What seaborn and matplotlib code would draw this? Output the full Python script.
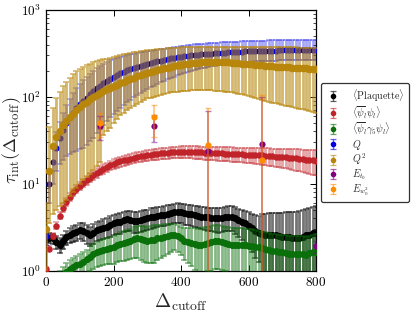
import numpy as np
import matplotlib
matplotlib.use("Agg")
import matplotlib.pyplot as plt
import matplotlib.colors as mcolors
from matplotlib.ticker import FixedLocator, FuncFormatter, LogLocator, NullFormatter, NullLocator
import seaborn as sns

# ---------------- data ----------------
cutoff = np.arange(0, 810, 10)

plaq = [2.45, 2.4, 2.35, 2.15, 1.98, 2.2, 2.45, 2.6, 2.7, 2.8,
        2.92, 2.85, 2.7, 2.57, 2.75, 2.92, 3.0, 3.1, 3.2, 3.35,
        3.5, 3.6, 3.67, 3.8, 3.9, 3.85, 3.75, 3.7, 3.85, 3.95,
        4.0, 4.1, 4.2, 4.3, 4.35, 4.4, 4.5, 4.6, 4.7, 4.75,
        4.7, 4.6, 4.55, 4.5, 4.4, 4.3, 4.2, 4.15, 4.1, 4.05,
        4.0, 4.0, 4.05, 4.15, 4.2, 4.2, 4.0, 3.8, 3.65, 3.5,
        3.3, 3.1, 2.9, 2.75, 2.65, 2.6, 2.57, 2.55, 2.55, 2.5,
        2.47, 2.45, 2.45, 2.4, 2.37, 2.35, 2.45, 2.55, 2.6, 2.7,
        2.7]
plaq_err = [0.3, 0.3, 0.3, 0.35, 0.4, 0.4, 0.45, 0.5, 0.55, 0.6,
            0.6, 0.65, 0.65, 0.65, 0.7, 0.7, 0.75, 0.8, 0.85, 0.9,
            0.9, 0.95, 1.0, 1.0, 1.0, 1.0, 1.0, 1.0, 1.05, 1.05,
            1.05, 1.1, 1.1, 1.1, 1.1, 1.15, 1.15, 1.15, 1.2, 1.2,
            1.2, 1.2, 1.2, 1.2, 1.2, 1.2, 1.2, 1.2, 1.2, 1.2,
            1.2, 1.25, 1.25, 1.3, 1.3, 1.3, 1.35, 1.35, 1.4, 1.4,
            1.4, 1.45, 1.5, 1.5, 1.8, 1.9, 2.0, 2.05, 2.1, 2.15,
            2.2, 2.25, 2.3, 2.35, 2.4, 2.5, 2.55, 2.6, 2.7, 2.75,
            2.8]

pbp = [1.05, 1.8, 2.5, 3.3, 4.3, 5.3, 6.2, 7.1, 8.0, 8.8,
       9.5, 10.3, 11.0, 11.8, 12.6, 13.4, 14.2, 14.9, 15.6, 16.3,
       17.0, 17.6, 18.1, 18.6, 19.0, 19.5, 19.9, 20.3, 20.7, 21.0,
       21.3, 21.6, 21.9, 22.2, 22.4, 22.6, 22.8, 23.0, 23.1, 23.2,
       23.3, 23.3, 23.3, 23.3, 23.2, 23.1, 23.0, 22.9, 22.8, 22.7,
       22.6, 22.5, 22.4, 22.3, 22.2, 22.1, 22.0, 21.9, 21.8, 21.7,
       21.6, 21.5, 21.4, 21.3, 21.2, 21.0, 20.9, 20.7, 20.6, 20.4,
       20.3, 20.1, 20.0, 19.8, 19.6, 19.4, 19.2, 19.0, 18.8, 18.6,
       18.5]
pbp_err = [0.05, 0.1, 0.2, 0.3, 0.4, 0.5, 0.6, 0.7, 0.8, 0.9,
           1.0, 1.15, 1.3, 1.4, 1.5, 1.6, 1.7, 1.8, 1.9, 2.0,
           2.1, 2.2, 2.3, 2.4, 2.5, 2.6, 2.65, 2.7, 2.8, 2.9,
           3.0, 3.05, 3.1, 3.2, 3.25, 3.3, 3.35, 3.4, 3.5, 3.55,
           3.6, 3.65, 3.7, 3.7, 3.75, 3.8, 3.85, 3.9, 3.9, 3.95,
           4.0, 4.0, 4.05, 4.05, 4.1, 4.1, 4.15, 4.2, 4.2, 4.25,
           4.3, 4.35, 4.4, 4.5, 4.55, 4.6, 4.7, 4.75, 4.85, 4.9,
           5.0, 5.1, 5.2, 5.3, 5.4, 5.5, 5.6, 5.7, 5.8, 5.9,
           6.0]

pg5p = [0.6, 0.62, 0.65, 0.7, 0.8, 0.9, 0.97, 1.05, 1.1, 1.15,
        1.2, 1.27, 1.35, 1.45, 1.55, 1.62, 1.68, 1.73, 1.78, 1.82,
        1.85, 1.95, 2.05, 2.1, 2.15, 2.2, 2.3, 2.35, 2.3, 2.25,
        2.22, 2.25, 2.28, 2.35, 2.4, 2.45, 2.5, 2.55, 2.6, 2.5,
        2.35, 2.22, 2.15, 2.1, 2.05, 2.0, 2.0, 2.05, 2.1, 2.15,
        2.2, 2.2, 2.15, 2.1, 2.05, 2.0, 2.0, 2.0, 1.98, 1.95,
        1.92, 1.9, 1.88, 1.85, 1.82, 1.78, 1.73, 1.7, 1.68, 1.65,
        1.63, 1.6, 1.57, 1.55, 1.55, 1.55, 1.55, 1.52, 1.58, 1.62,
        1.66]
pg5p_err = [0.2, 0.2, 0.2, 0.2, 0.2, 0.2, 0.25, 0.28, 0.3, 0.32,
            0.35, 0.38, 0.4, 0.45, 0.5, 0.52, 0.55, 0.58, 0.6, 0.62,
            0.65, 0.7, 0.75, 0.8, 0.82, 0.85, 0.9, 0.95, 0.98, 1.0,
            1.0, 1.02, 1.05, 1.02, 1.0, 0.97, 0.95, 0.92, 0.88, 0.86,
            0.85, 0.88, 0.92, 0.98, 1.02, 1.05, 1.08, 1.1, 1.12, 1.15,
            1.15, 1.15, 1.12, 1.1, 1.1, 1.1, 1.1, 1.1, 1.1, 1.1,
            1.1, 1.1, 1.08, 1.05, 1.0, 0.98, 0.96, 0.95, 0.95, 0.95,
            0.95, 0.95, 0.95, 0.95, 0.95, 0.95, 0.95, 0.95, 0.95, 0.95,
            0.95]

topq = [2.5, 10, 18, 26, 34, 42, 50, 58, 66, 74,
        82, 90, 98, 107, 116, 125, 134, 143, 152, 161,
        170, 178, 186, 194, 202, 209, 216, 223, 229, 235,
        241, 247, 252, 257, 262, 267, 272, 277, 282, 286,
        290, 294, 297, 300, 303, 306, 309, 311, 313, 315,
        317, 319, 321, 323, 325, 327, 329, 330, 332, 333,
        334, 335, 336, 337, 338, 339, 340, 341, 341, 342,
        342, 343, 344, 345, 345, 346, 347, 348, 349, 349,
        350]
topq_low = [2.0, 6, 10, 14, 17, 19, 21, 22, 23, 24,
            25, 26, 28, 31, 34, 38, 43, 48, 53, 58,
            63, 69, 75, 81, 87, 93, 99, 105, 111, 117,
            123, 129, 135, 141, 147, 153, 159, 165, 171, 177,
            183, 188, 193, 198, 203, 208, 213, 217, 221, 225,
            229, 232, 235, 238, 241, 244, 246, 248, 250, 252,
            254, 255, 256, 257, 258, 259, 260, 261, 262, 263,
            264, 264, 265, 265, 266, 266, 267, 267, 268, 268,
            268]
topq_high = [3.0, 14, 26, 39, 52, 66, 80, 95, 110, 125,
             140, 155, 170, 185, 200, 214, 228, 241, 253, 264,
             274, 283, 291, 298, 304, 310, 315, 320, 325, 330,
             335, 340, 345, 350, 355, 360, 365, 370, 375, 380,
             385, 389, 393, 397, 401, 405, 408, 411, 414, 417,
             420, 422, 424, 426, 428, 430, 432, 434, 436, 438,
             440, 441, 442, 443, 444, 445, 446, 447, 448, 449,
             450, 451, 451, 452, 452, 453, 453, 454, 454, 455,
             455]

topq2 = [3.0, 14, 27, 35, 41, 47, 53, 58, 64, 70,
         76, 82, 88, 94, 100, 106, 111, 116, 122, 127,
         133, 138, 144, 150, 155, 161, 166, 172, 178, 183,
         188, 193, 198, 203, 208, 213, 217, 222, 226, 230,
         234, 237, 240, 243, 245, 247, 249, 250, 251, 252,
         252, 252, 251, 250, 249, 248, 246, 244, 242, 240,
         238, 236, 234, 232, 230, 228, 226, 224, 222, 221,
         220, 219, 218, 217, 216, 215, 214, 213, 212, 211,
         210]
topq2_low = [0.5, 3.5, 4.5, 5.0, 5.5, 6.0, 6.5, 7.2, 8.0, 9.0,
             10, 11, 12, 13, 14.5, 16, 18, 36, 40, 44,
             50, 56, 62, 66, 70, 74, 78, 83, 88, 92,
             96, 98, 100, 103, 106, 108, 111, 113, 114, 115,
             116, 117, 118, 118.5, 119, 119, 119, 119, 119, 118.5,
             118, 117, 116, 115, 114, 112.5, 111, 109, 107, 105,
             103, 100.5, 98, 95.5, 93, 90.5, 88, 86, 84, 82.5,
             81, 79.5, 78, 76.5, 75, 73.5, 72, 70.5, 69, 67.5,
             66]
topq2_high = [6, 45, 75, 97, 115, 135, 150, 165, 182, 198,
              210, 220, 230, 240, 250, 258, 265, 270, 276, 280,
              287, 295, 305, 310, 315, 320, 325, 330, 334, 338,
              342, 346, 350, 353, 356, 359, 362, 365, 367, 369,
              371, 373, 374, 375, 376, 377, 378, 379, 379, 380,
              380, 380, 380, 380, 380, 380, 380, 379, 379, 378,
              378, 377, 377, 376, 376, 375, 375, 374, 374, 373,
              373, 372, 372, 371, 371, 370, 370, 370, 370, 370,
              370]

et0_x = [160, 320, 480, 640, 800]
et0 = [46, 46.5, 23.9, 28.6, 1.9]
et0_err = [14, 16, 45, 70, 0.3]

ew0_x = [160, 320, 480, 640]
ew0 = [50, 58, 27.6, 18.9]
ew0_err = [15, 23, 47, 85]

labels = [r'$\langle\mathrm{Plaquette}\rangle$',
          r'$\langle\overline{\psi}_l\psi_l\rangle$',
          r'$\langle\overline{\psi}_l\gamma_5\psi_l\rangle$',
          r'$Q$', r'$Q^2$', r'$E_{t_0}$', r'$E_{w_0^2}$']
colors = ['black', '#c0242a', '#0a700a', '#0000e0', '#b8860b',
          '#800080', '#ff8c00']

# ---------------- style ----------------
sns.set_style('ticks')
plt.rcParams['font.family'] = ['DejaVu Serif']
plt.rcParams['mathtext.fontset'] = 'cm'

fig = plt.figure(figsize=(4.16, 3.12), dpi=100)
ax = fig.add_axes([46 / 416, 1 - 270.7 / 312, 270 / 416, 260.7 / 312])
ax.set_yscale('log')


def rgba(c, a):
    r, g, b = mcolors.to_rgb(c)
    return (r, g, b, a)


def band(xv, yv, lo, hi, c, alpha=0.5, s=22, z=2, cap_alpha=None):
    yv = np.asarray(yv, float)
    yerr = [yv - np.asarray(lo, float), np.asarray(hi, float) - yv]
    cont = ax.errorbar(xv, yv, yerr=yerr, fmt='none', ecolor=rgba(c, alpha),
                       elinewidth=2.0, capsize=2.2, capthick=1.2, zorder=z)
    if cap_alpha is not None:
        for cl in cont[1]:
            cl.set_color(rgba(c, cap_alpha))
    sns.scatterplot(x=xv, y=yv, color=c, s=s, linewidth=0, ax=ax,
                    legend=False, zorder=z + 0.1)


def sym(yv, e):
    yv = np.asarray(yv, float)
    e = np.asarray(e, float)
    return yv - e, yv + e


lo, hi = sym(plaq, plaq_err)
band(cutoff, plaq, lo, hi, colors[0], alpha=0.55, s=26, z=2)
lo, hi = sym(pbp, pbp_err)
band(cutoff, pbp, lo, hi, colors[1], alpha=0.42, s=22, z=3)
lo, hi = sym(pg5p, pg5p_err)
band(cutoff, pg5p, lo, hi, colors[2], alpha=0.5, s=26, z=4)
band(cutoff, topq, topq_low, topq_high, colors[3], alpha=0.35, s=20, z=5,
     cap_alpha=0.8)
band(cutoff, topq2, topq2_low, topq2_high, colors[4], alpha=0.6, s=30, z=6)

ax.errorbar(et0_x, et0, yerr=et0_err, fmt='none', ecolor=rgba(colors[5], 0.5),
            elinewidth=1.3, capsize=2.5, capthick=1.0, zorder=7)
sns.scatterplot(x=et0_x, y=et0, color=colors[5], s=20, linewidth=0, ax=ax,
                legend=False, zorder=7.1)
ax.errorbar(ew0_x, ew0, yerr=ew0_err, fmt='none', ecolor=rgba(colors[6], 0.5),
            elinewidth=1.3, capsize=2.5, capthick=1.0, zorder=8)
sns.scatterplot(x=ew0_x, y=ew0, color=colors[6], s=20, linewidth=0, ax=ax,
                legend=False, zorder=8.1)

# legend proxies
handles = []
for c in colors:
    h = ax.errorbar([np.nan], [np.nan], yerr=[1.0], fmt='o', color=c,
                    ecolor=rgba(c, 0.6), ms=3.0, elinewidth=1.0,
                    capsize=2.0, capthick=0.9)
    handles.append(h)
leg = ax.legend(handles, labels, loc='upper left', bbox_to_anchor=(1.017, 0.72),
                borderaxespad=0, fontsize=7.2, frameon=True, fancybox=True,
                edgecolor='#333333', framealpha=1, handlelength=1.6,
                handletextpad=1.1, labelspacing=0.02, borderpad=0.45)
leg.get_frame().set_linewidth(0.9)

ax.set_xlim(0, 800)
ax.set_ylim(1, 1000)
ax.xaxis.set_major_locator(FixedLocator([0, 200, 400, 600, 800]))
ax.xaxis.set_minor_locator(NullLocator())
ax.xaxis.set_major_formatter(FuncFormatter(lambda v, p: f'${int(v)}$'))
ax.yaxis.set_major_locator(LogLocator(base=10, numticks=10))
ax.yaxis.set_minor_locator(LogLocator(base=10, subs=np.arange(2, 10), numticks=10))
ax.yaxis.set_minor_formatter(NullFormatter())
ax.yaxis.set_major_formatter(FuncFormatter(lambda v, p: f'$10^{{{int(round(np.log10(v)))}}}$'))
ax.tick_params(which='both', direction='in', top=True, right=True, colors='black',
               labelsize=9.5)
ax.tick_params(which='major', length=4, width=0.7)
ax.tick_params(which='minor', length=2, width=0.5)
for sp in ax.spines.values():
    sp.set_linewidth(0.9)
    sp.set_color('black')

ax.set_xlabel(r'$\Delta_{\mathrm{cutoff}}$', fontsize=14, labelpad=2)
ax.set_ylabel(r'$\tau_{\mathrm{int}}(\Delta_{\mathrm{cutoff}})$', fontsize=13)
ax.yaxis.set_label_coords(-0.085, 0.5)

fig.savefig('out.png', dpi=100)
